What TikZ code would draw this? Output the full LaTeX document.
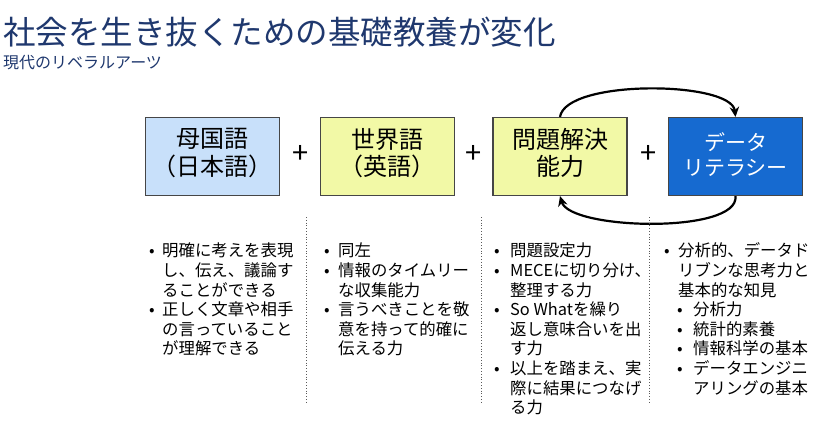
\documentclass[tikz,border=0pt]{standalone}
\usepackage{fontspec}
\setmainfont{Noto Sans CJK JP}
\usetikzlibrary{arrows.meta}
\definecolor{titleblue}{RGB}{31,56,110}
\definecolor{boxblue}{RGB}{200,224,250}
\definecolor{boxyellow}{RGB}{242,249,166}
\definecolor{boxdark}{RGB}{22,106,208}
\definecolor{edgegray}{RGB}{70,70,70}
\definecolor{sepgray}{RGB}{90,90,90}
\begin{document}
\begin{tikzpicture}[x=1pt,y=-1pt,
  box/.style={draw=edgegray,line width=1.2pt,minimum width=134pt,minimum height=78pt,inner sep=0pt},
  boxtext/.style={align=center,inner sep=0pt,font=\fontsize{24}{27.5}\selectfont},
  plus/.style={inner sep=0pt,font=\fontsize{29}{29}\selectfont},
  cycle arrow/.style={line width=2.2pt,-{Stealth[length=10pt,width=9.5pt]}},
  sep/.style={sepgray,dotted,line width=0.8pt},
  tx/.style={anchor=base west,inner sep=0pt,font=\fontsize{16.4}{19.6}\selectfont},
  bul/.style={anchor=base,inner sep=0pt,font=\fontsize{16.4}{19.6}\selectfont}]
\useasboundingbox (0,0) rectangle (840,439);
% title
\node[anchor=base west,inner sep=0pt,text=titleblue,font=\fontsize{32.5}{34}\selectfont] (title) at (3,44.5) {社会を生き抜くための基礎教養が変化};
\node[anchor=base west,inner sep=0pt,text=titleblue,font=\fontsize{16}{18}\selectfont] (subtitle) at (3,68.5) {現代のリベラルアーツ};
% boxes
\node[box,fill=boxblue] (b1) at (212.5,156.5) {};
\node[box,fill=boxyellow] (b2) at (387.5,156.5) {};
\node[box,fill=boxyellow] (b3) at (560,156.5) {};
\node[box,fill=boxdark] (b4) at (735.5,156.5) {};
\node[boxtext] (t1) at (212.5,153) {母国語\\（日本語）};
\node[boxtext] (t2) at (387.5,153) {世界語\\（英語）};
\node[boxtext] (t3) at (560,153) {問題解決\\能力};
\node[boxtext,text=white,font=\fontsize{21}{24.4}\selectfont] (t4) at (735.5,154.5) {データ\\リテラシー};
% plus signs
\node[plus] (p1) at (301,154.5) {+};
\node[plus] (p2) at (474,154.5) {+};
\node[plus] (p3) at (649,154.5) {+};
% cycle arrows
\draw[cycle arrow] (b3.north) .. controls +(6,-38) and +(-4,-36) .. (b4.north);
\draw[cycle arrow] (b4.south) .. controls +(4,38) and +(10,34) .. (b3.south);
% separators
\draw[sep] (306,217) -- (306,403);
\draw[sep] (481,217) -- (481,403);
\draw[sep] (649,217) -- (649,403);
% column 1
\foreach \t [count=\i] in {明確に考えを表現,し、伝え、議論す,ることができる,正しく文章や相手,の言っていること,が理解できる}
  \node[tx] (ca\i) at (162,256.9+19.6*\i-19.6) {\t};
\foreach \k in {1,4}
  \node[bul] (cab\k) at (152,256.9+19.6*\k-19.6) {•};
% column 2
\foreach \t [count=\i] in {同左,情報のタイムリー,な収集能力,言うべきことを敬,意を持って的確に,伝える力}
  \node[tx] (cb\i) at (338,256.9+19.6*\i-19.6) {\t};
\foreach \k in {1,2,4}
  \node[bul] (cbb\k) at (327,256.9+19.6*\k-19.6) {•};
% column 3
\foreach \t [count=\i] in {問題設定力,MECEに切り分け、,整理する力,So Whatを繰り,返し意味合いを出,す力,以上を踏まえ、実,際に結果につなげ,る力}
  \node[tx] (cc\i) at (510,256.9+19.6*\i-19.6) {\t};
\foreach \k in {1,2,4,7}
  \node[bul] (ccb\k) at (497,256.9+19.6*\k-19.6) {•};
% column 4
\foreach \t [count=\i] in {分析的、データド,リブンな思考力と,基本的な知見}
  \node[tx] (cd\i) at (678,256.9+19.6*\i-19.6) {\t};
\node[bul] (cdb1) at (667,256.9) {•};
\foreach \t [count=\i from 4] in {分析力,統計的素養,情報科学の基本,データエンジニ,アリングの基本}
  \node[tx] (cd\i) at (693,256.9+19.6*\i-19.6) {\t};
\foreach \k in {4,5,6,7}
  \node[bul] (cdb\k) at (680,256.9+19.6*\k-19.6) {•};
\end{tikzpicture}
\end{document}
